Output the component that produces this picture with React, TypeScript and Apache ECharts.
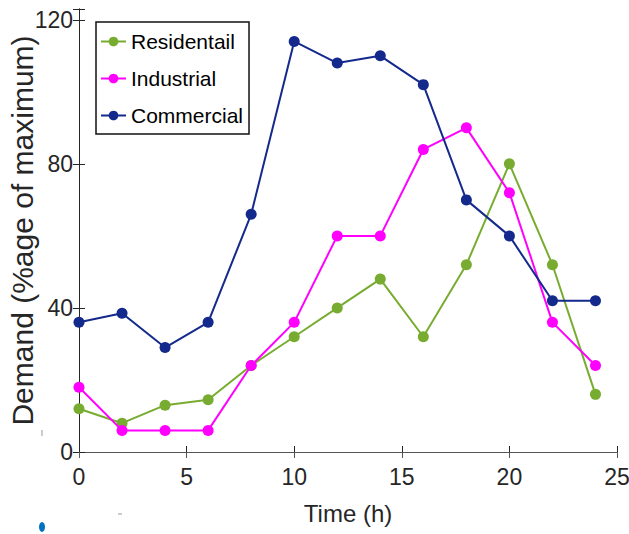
import React, { useEffect, useRef } from "react";
import * as echarts from "echarts";

const hours = [0, 2, 4, 6, 8, 10, 12, 14, 16, 18, 20, 22, 24];
const residential = [12, 8, 13, 14.5, 24, 32, 40, 48, 32, 52, 80, 52, 16];
const industrial = [18, 6, 6, 6, 24, 36, 60, 60, 84, 90, 72, 36, 24];
const commercial = [36, 38.5, 29, 36, 66, 114, 108, 110, 102, 70, 60, 42, 42];
const seriesNames = ["Residentail", "Industrial", "Commercial"];
const seriesColors = ["#77ac30", "#ff00ff", "#14298c"];
const xTitle = "Time (h)";
const yTitle = "Demand (%age of maximum)";

export default function App() {
  const ref = useRef<HTMLDivElement>(null);
  useEffect(() => {
    if (!ref.current) return;
    const chart = echarts.init(ref.current, null, { renderer: "svg" });
    const axisColor = "#262626";
    const font = "'Liberation Sans', Arial, sans-serif";
    const pairs = (ys: number[]) => hours.map((h, i) => [h, ys[i]]);
    const allData = [residential, industrial, commercial];
    chart.setOption({
      animation: false,
      backgroundColor: "#ffffff",
      grid: { left: 79, right: 12, top: 9, bottom: 82, containLabel: false, outerBoundsMode: "none" },
      legend: {
        orient: "vertical",
        left: 96,
        top: 22,
        padding: [9, 6, 8, 4],
        itemGap: 16,
        itemWidth: 25,
        itemHeight: 12,
        borderColor: "#111",
        borderWidth: 1.5,
        backgroundColor: "#fff",
        textStyle: { fontFamily: font, fontSize: 21, color: "#000" },
        data: seriesNames,
      },
      xAxis: [
        {
          type: "value",
          min: 0,
          max: 25,
          interval: 5,
          position: "bottom",
          name: xTitle,
          nameLocation: "middle",
          nameGap: 49,
          nameMoveOverlap: false,
          nameTextStyle: { fontFamily: font, fontSize: 24, color: axisColor },
          axisLine: { show: true, lineStyle: { color: axisColor, width: 1 } },
          axisTick: { show: true, inside: true, length: 6, lineStyle: { color: axisColor } },
          axisLabel: { margin: 13, fontFamily: font, fontSize: 23, color: axisColor },
          splitLine: { show: false },
        },
        {
          type: "value",
          min: 0,
          max: 25,
          interval: 5,
          position: "top",
          axisLine: { show: true, lineStyle: { color: "#555", width: 1 } },
          axisTick: { show: true, inside: true, length: 6, lineStyle: { color: "#555" } },
          axisLabel: { show: false },
          splitLine: { show: false },
        },
      ],
      yAxis: [
        {
          type: "value",
          min: 0,
          max: 123,
          interval: 40,
          position: "left",
          name: yTitle,
          nameLocation: "middle",
          nameGap: 42,
          nameMoveOverlap: false,
          nameTextStyle: { fontFamily: font, fontSize: 30, color: axisColor },
          axisLine: { show: true, lineStyle: { color: axisColor, width: 1 } },
          axisTick: { show: true, inside: true, length: 6, lineStyle: { color: axisColor } },
          axisLabel: {
            margin: 6,
            fontFamily: font,
            fontSize: 23,
            color: axisColor,
            formatter: (v: number) => (v % 40 === 0 ? String(v) : ""),
          },
          splitLine: { show: false },
        },
        {
          type: "value",
          min: 0,
          max: 123,
          interval: 40,
          position: "right",
          axisLine: { show: true, lineStyle: { color: axisColor, width: 1 } },
          axisTick: { show: true, inside: true, length: 6, lineStyle: { color: axisColor } },
          axisLabel: { show: false },
          splitLine: { show: false },
        },
      ],
      series: seriesNames.map((name, i) => ({
        name,
        type: "line",
        xAxisIndex: 0,
        yAxisIndex: 0,
        data: pairs(allData[i]),
        symbol: "circle",
        symbolSize: 11,
        lineStyle: { color: seriesColors[i], width: 2 },
        itemStyle: { color: seriesColors[i] },
        z: 3 + i,
      })),
      graphic: [
        { type: "line", shape: { x1: 42, y1: 430, x2: 42, y2: 436 }, style: { stroke: "#999", lineWidth: 1 } },
        { type: "line", shape: { x1: 118, y1: 514, x2: 122, y2: 514 }, style: { stroke: "#999", lineWidth: 1 } },
        { type: "ellipse", shape: { cx: 42, cy: 527, rx: 3, ry: 5 }, style: { fill: "#0072bd" } },
      ],
    });
    return () => chart.dispose();
  }, []);
  return <div ref={ref} style={{ width: 629, height: 534, position: "absolute", left: 0, top: 0 }} />;
}
